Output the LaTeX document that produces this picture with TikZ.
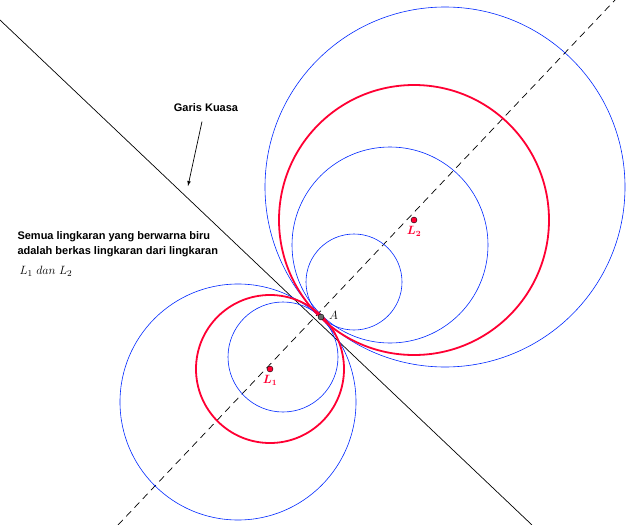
\documentclass[tikz,border=0pt]{standalone}
\usepackage{amsmath,bm}
\usepackage{fontspec}
\setmainfont{Liberation Sans}
\begin{document}
\begin{tikzpicture}[x=1pt,y=-1pt,
  blue circ/.style={draw={rgb,255:red,0;green,40;blue,255},line width=0.6pt},
  red circ/.style={draw={rgb,255:red,255;green,0;blue,51},line width=1.8pt},
  pt/.style={circle,fill={rgb,255:red,255;green,0;blue,51},draw=black,inner sep=0pt,minimum size=6pt},
  lab/.style={text={rgb,255:red,255;green,0;blue,51},font=\fontsize{12}{14}\selectfont\bfseries},
  txt/.style={font=\fontsize{11}{15}\selectfont\bfseries}]
\useasboundingbox (0,0) rectangle (630,525);
\coordinate (p1) at (118,525);
\coordinate (p2) at (615,0);
\coordinate (q1) at (0,20);
\coordinate (q2) at (532,525);
\draw[dash pattern=on 7pt off 5pt,line width=0.7pt] (p1) -- (p2);
\draw[line width=0.7pt] (q1) -- (q2);
\draw[blue circ] (238,402) circle (118);
\draw[blue circ] (283,357) circle (55);
\draw[blue circ] (445,187) circle (180);
\draw[blue circ] (390,245) circle (98);
\draw[blue circ] (354,282) circle (48);
\draw[red circ] (270,369) circle (74);
\draw[red circ] (414,220) circle (135);
\node[pt] (L1) at (270,369) {};
\node[pt] (L2) at (414,220) {};
\node[circle,fill=black!60,draw=black,inner sep=0pt,minimum size=6pt] (A) at (321,317) {};
\node[lab,below=3pt] at (L1) {$\bm{L_1}$};
\node[lab,below=3pt] at (L2) {$\bm{L_2}$};
\node[anchor=south west,inner sep=1pt,font=\fontsize{12}{14}\selectfont] at (328,321) {$A$};
\node[txt] (gk) at (206,108) {Garis Kuasa};
\coordinate (gt) at (188,186);
\draw[-latex,line width=0.7pt] (gk.south) ++(-4,6) -- (gt);
\node[txt,anchor=west,align=left] at (14,244) {Semua lingkaran yang berwarna biru\\adalah berkas lingkaran dari lingkaran};
\node[anchor=west,font=\fontsize{13}{15}\selectfont] at (16,271) {$L_1\ dan\ L_2$};
\end{tikzpicture}
\end{document}
